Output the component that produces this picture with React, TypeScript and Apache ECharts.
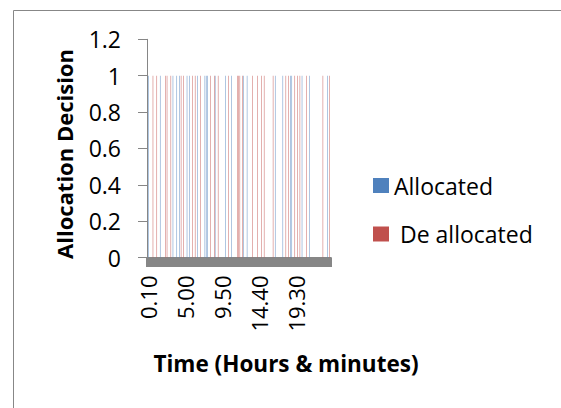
import React, { useEffect, useRef } from "react";
import * as echarts from "echarts";

// Time slots every 10 minutes: 0.10, 0.20 ... 24.00 (hours.minutes)
const timeSlots: string[] = [];
for (let m = 10; m <= 1440; m += 10) {
  const h = Math.floor(m / 60);
  const mm = m % 60;
  timeSlots.push(`${h}.${mm < 10 ? "0" + mm : mm}`);
}

// Allocation decision per time slot (1 = decision taken)
const allocated: number[] = [
  0,1,0,0,0,0,0,0,0,0,1,0,0,0,0,0,0,0,0,0,1,0,0,1,
  0,1,0,0,0,0,0,1,0,1,0,0,0,0,0,1,0,0,0,0,0,1,1,1,
  0,0,0,0,0,1,0,0,0,0,0,0,0,1,0,0,0,0,1,0,0,0,0,0,
  0,0,0,1,0,0,1,0,0,0,0,0,0,0,0,0,0,0,0,0,0,0,0,0,
  0,0,0,0,1,0,0,0,0,0,1,0,0,0,0,0,1,1,0,0,0,0,0,0,
  0,1,0,0,0,0,0,1,0,0,0,0,0,0,0,0,0,0,0,0,0,1,0,0,
];

const deallocated: number[] = [
  0,0,0,0,1,0,0,1,0,0,0,0,0,0,1,1,0,0,1,0,0,0,0,0,
  0,0,1,0,1,0,0,0,0,0,0,1,0,1,0,0,0,1,0,0,0,0,0,0,
  0,1,0,0,1,0,0,1,0,0,0,0,0,0,0,1,0,0,0,0,0,0,1,1,
  1,0,1,0,0,0,0,0,0,0,1,0,0,0,1,0,0,1,0,1,0,0,0,0,
  0,0,1,0,0,0,0,0,0,0,0,0,1,0,1,0,0,0,0,1,0,1,0,1,
  0,0,0,0,1,0,0,0,0,0,0,0,0,0,0,0,0,1,0,0,0,0,1,0,
];

const seriesNames = ["Allocated", "De allocated"];
const seriesColors = ["#4F81BD", "#C0504D"];
const xTitle = "Time (Hours & minutes)";
const yTitle = "Allocation Decision";

const FONT = "Open Sans";
const FS = 23;

export default function App() {
  const ref = useRef<HTMLDivElement>(null);

  useEffect(() => {
    if (!ref.current) return;
    const chart = echarts.init(ref.current, null, { renderer: "svg" });
    chart.setOption({
      animation: false,
      backgroundColor: "#ffffff",
      textStyle: { fontFamily: FONT },
      grid: { left: 147, top: 39.3, width: 184, height: 218.2, containLabel: false },
      xAxis: {
        type: "category",
        data: timeSlots,
        boundaryGap: true,
        axisLine: { show: true, lineStyle: { color: "#868686", width: 1 } },
        axisTick: {
          show: true,
          interval: 0,
          length: 9.5,
          lineStyle: { color: "#868686", width: 2 },
        },
        axisLabel: {
          interval: 28,
          rotate: 90,
          margin: 18,
          fontSize: 22,
          color: "#000",
          fontFamily: FONT,
        },
        splitLine: { show: false },
      },
      yAxis: {
        type: "value",
        min: 0,
        max: 1.2,
        interval: 0.2,
        axisLine: { show: true, lineStyle: { color: "#868686", width: 1 } },
        axisTick: { show: true, length: 9, lineStyle: { color: "#868686" } },
        splitLine: { show: false },
        axisLabel: {
          margin: 26,
          fontSize: FS,
          color: "#000",
          fontFamily: FONT,
          formatter: (v: number) => String(Math.round(v * 10) / 10),
        },
      },
      legend: {
        orient: "vertical",
        left: 373,
        top: 174,
        padding: 0,
        itemWidth: 16,
        itemHeight: 15,
        itemGap: 25.5,
        icon: "rect",
        data: seriesNames,
        textStyle: { fontSize: FS, color: "#000", fontFamily: FONT },
        formatter: (n: string) => (n === "De allocated" ? " De allocated" : n),
      },
      series: [
        {
          name: seriesNames[0],
          type: "bar",
          data: allocated,
          itemStyle: { color: seriesColors[0] },
          barWidth: 0.45,
          barMinWidth: 0.1,
          barGap: "0%",
        },
        {
          name: seriesNames[1],
          type: "bar",
          data: deallocated,
          itemStyle: { color: seriesColors[1] },
          barWidth: 0.45,
          barMinWidth: 0.1,
          barGap: "0%",
        },
      ],
      graphic: [
        {
          type: "rect",
          shape: { x: 13.5, y: 10.5, width: 620, height: 460 },
          style: { fill: "none", stroke: "#878787", lineWidth: 1 },
          silent: true,
        },
        {
          type: "text",
          x: 64,
          y: 154,
          rotation: Math.PI / 2,
          style: {
            text: yTitle,
            fontSize: 22,
            fontWeight: "bold",
            fontFamily: FONT,
            fill: "#000",
            align: "center",
            verticalAlign: "middle",
          },
        },
        {
          type: "text",
          x: 286,
          y: 363,
          style: {
            text: xTitle,
            fontSize: 22.5,
            fontWeight: "bold",
            fontFamily: FONT,
            fill: "#000",
            align: "center",
            verticalAlign: "middle",
          },
        },
      ],
    });
    return () => chart.dispose();
  }, []);

  return (
    <div
      ref={ref}
      style={{ position: "absolute", left: 0, top: 0, width: 561, height: 408, background: "#fff" }}
    />
  );
}
